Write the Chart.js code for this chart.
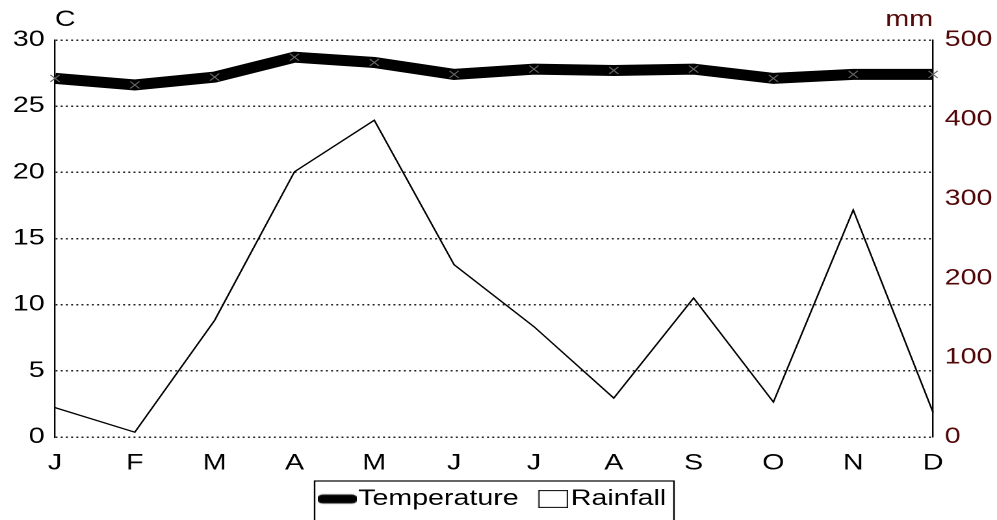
<!DOCTYPE html>
<html>
<head>
<meta charset="utf-8">
<script src="https://cdn.jsdelivr.net/npm/chart.js@4"></script>
<style>
  body { margin: 0; background: #fff; }
</style>
</head>
<body>
<!-- the original is stretched sideways, so draw narrow and stretch by css -->
<canvas id="myChart" width="767" height="520" style="width:997px;height:520px"></canvas>
<script>
const months = ['J', 'F', 'M', 'A', 'M', 'J', 'J', 'A', 'S', 'O', 'N', 'D']
const temperature = [27.1, 26.6, 27.2, 28.7, 28.3, 27.4, 27.8, 27.7, 27.8, 27.1, 27.4, 27.4]
const rainfall = [37, 6, 147, 334, 399, 217, 139, 49, 175, 44, 286, 31]

const font = 'Liberation Sans, Arial, Helvetica, sans-serif'
const red = '#520808'

function makeIcon(w, h, draw) {
    let c = document.createElement('canvas')
    c.width = w
    c.height = h
    draw(c.getContext('2d'))
    return c
}

const tempIcon = makeIcon(30, 12, (ctx) => {
    ctx.strokeStyle = '#000'
    ctx.lineWidth = 9
    ctx.lineCap = 'round'
    ctx.beginPath()
    ctx.moveTo(4, 6)
    ctx.lineTo(26, 6)
    ctx.stroke()
})

const rainIcon = makeIcon(28, 18, (ctx) => {
    ctx.fillStyle = '#fff'
    ctx.fillRect(5, 0, 23, 18)
    ctx.strokeStyle = '#000'
    ctx.lineWidth = 1
    ctx.strokeRect(5.5, 0.5, 22, 17)
})

// axis units + box around legend
const extras = {
    id: 'extras',
    afterDraw(chart) {
        const ctx = chart.ctx
        const area = chart.chartArea
        ctx.save()
        ctx.font = '22px ' + font
        ctx.textBaseline = 'middle'
        ctx.fillStyle = '#000'
        ctx.textAlign = 'left'
        ctx.fillText('C', area.left, 20)
        ctx.fillStyle = red
        ctx.textAlign = 'right'
        ctx.fillText('mm', area.right, 20)

        const boxes = chart.legend.legendHitBoxes
        if (boxes && boxes.length) {
            let l = Math.min(...boxes.map(b => b.left))
            let r = Math.max(...boxes.map(b => b.left + b.width))
            let t = Math.min(...boxes.map(b => b.top))
            ctx.strokeStyle = '#000'
            ctx.lineWidth = 1.2
            ctx.strokeRect(l - 12.5, t - 7, r - l + 18.5, 60)
        }
        ctx.restore()
    }
}

new Chart(document.getElementById('myChart'), {
    type: 'line',
    data: {
        labels: months,
        datasets: [{
            label: 'Temperature',
            data: temperature,
            yAxisID: 'y',
            borderColor: '#000',
            borderWidth: 11,
            pointStyle: 'crossRot',
            pointRadius: 5,
            pointBorderColor: '#666',
            pointBorderWidth: 1,
            tension: 0
        }, {
            label: 'Rainfall',
            data: rainfall,
            yAxisID: 'y1',
            borderColor: '#000',
            backgroundColor: '#fff',
            borderWidth: 1.3,
            pointRadius: 0,
            tension: 0
        }]
    },
    options: {
        responsive: false,
        devicePixelRatio: 2,
        animation: false,
        layout: { padding: { top: 40, left: 0, right: 0, bottom: 0 } },
        plugins: {
            tooltip: { enabled: false },
            legend: {
                position: 'bottom',
                labels: {
                    color: '#000',
                    font: { family: font, size: 22 },
                    usePointStyle: true,
                    pointStyleWidth: 10,
                    padding: 13,
                    generateLabels(chart) {
                        return [{
                            text: 'Temperature ', datasetIndex: 0,
                            pointStyle: tempIcon, strokeStyle: '#000', fillStyle: '#000', lineWidth: 0
                        }, {
                            text: 'Rainfall', datasetIndex: 1,
                            pointStyle: rainIcon, strokeStyle: '#000', fillStyle: '#fff', lineWidth: 0
                        }]
                    }
                }
            }
        },
        scales: {
            x: {
                offset: false,
                grid: { display: false, drawTicks: false },
                border: { display: false },
                ticks: { color: '#000', font: { family: font, size: 22 }, padding: 13, maxRotation: 0, autoSkip: false },
                afterFit(scale) { scale.height = 38 }
            },
            y: {
                position: 'left',
                min: 0,
                max: 30,
                ticks: { stepSize: 5, color: '#000', font: { family: font, size: 22 }, padding: 8 },
                grid: { color: '#222', lineWidth: 1.5, drawTicks: false },
                border: { color: '#000', width: 1.2, dash: [1.5, 2.5] },
                afterFit(scale) { scale.width = 42.3 }
            },
            y1: {
                position: 'right',
                min: 0,
                max: 500,
                ticks: { stepSize: 100, color: red, font: { family: font, size: 22 }, padding: 9 },
                grid: { display: false, drawTicks: false },
                border: { color: '#000', width: 1.2 },
                afterFit(scale) { scale.width = 49.2 }
            }
        }
    },
    plugins: [extras]
})
</script>
</body>
</html>
